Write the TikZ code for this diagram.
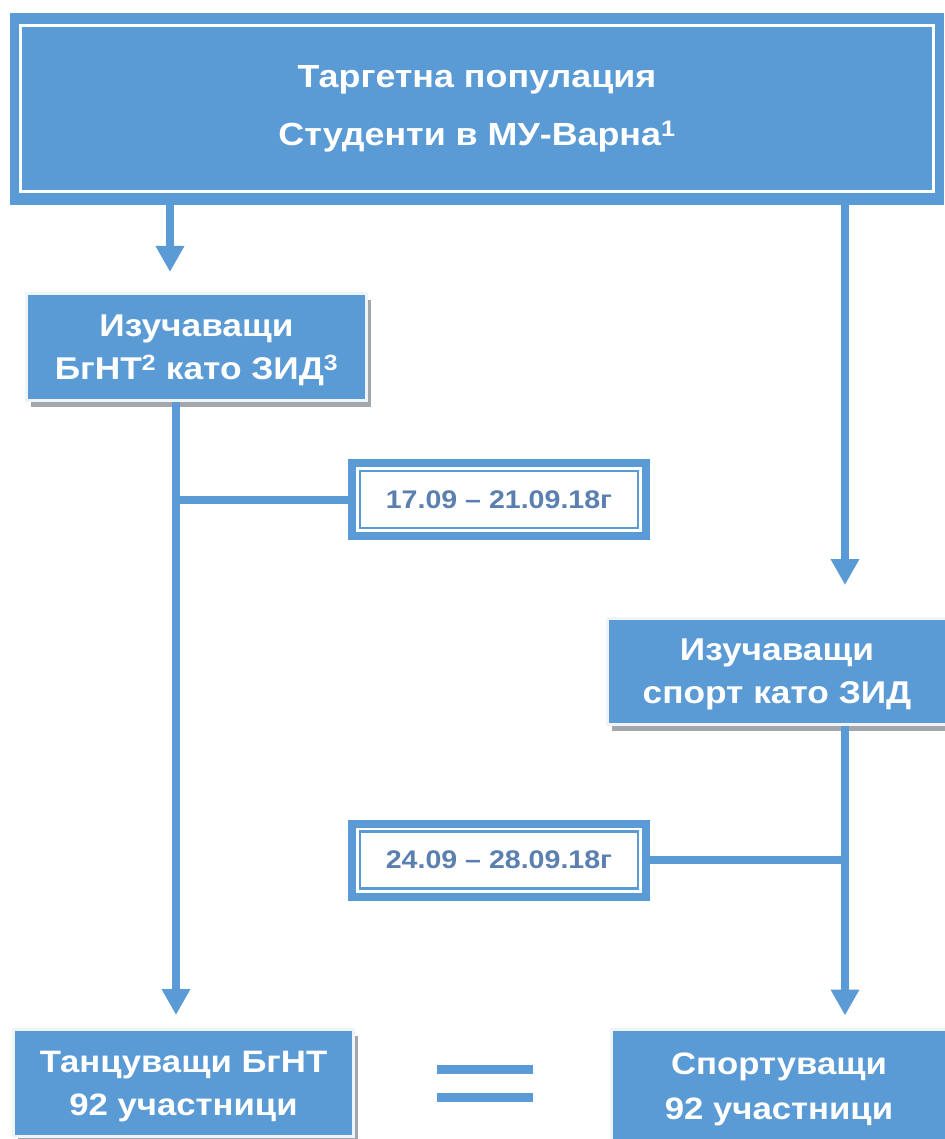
\documentclass[tikz,border=0pt]{standalone}
\usepackage{fontspec}
\setmainfont{Liberation Sans}[FakeStretch=1.12]
\usetikzlibrary{arrows.meta,shadows}
\definecolor{fcblue}{HTML}{5B9BD5}
\definecolor{fcrim}{HTML}{EEF4FA}
\definecolor{fcdate}{HTML}{5B80B0}
\definecolor{fcshadow}{HTML}{A3A7AB}

\begin{document}
\begin{tikzpicture}[x=1pt,y=-1pt,
    top box/.style={fill=fcblue,text=white,font=\fontsize{32}{58}\selectfont\bfseries,align=center,inner sep=0pt,minimum width=934pt,minimum height=192pt,
      path picture={\draw[white,line width=3pt] ([shift={(10pt,-13pt)}]path picture bounding box.north west) rectangle ([shift={(-11pt,13pt)}]path picture bounding box.south east);}},
    blue box/.style={fill=fcblue,draw=fcrim,line width=3pt,text=white,font=\fontsize{31.5}{43}\selectfont\bfseries,align=center,inner sep=0pt,text depth=0pt,
      drop shadow={shadow xshift=4pt,shadow yshift=-6pt,fill=fcshadow,opacity=1}},
    date box/.style={fill=white,draw=fcblue,line width=8pt,text=fcdate,font=\fontsize{25.5}{28}\selectfont\bfseries,inner sep=0pt,minimum width=294pt,minimum height=73pt,
      path picture={\draw[fcblue,line width=2.5pt] ([shift={(8pt,-8pt)}]path picture bounding box.north west) rectangle ([shift={(-8pt,8pt)}]path picture bounding box.south east);}},
    link/.style={fcblue,line width=8pt},
    flow/.style={link,-{Triangle[width=27pt,length=26pt]}}]
  \useasboundingbox (0,0) rectangle (944,1139);
  \fill[white] (0,0) rectangle (944,1139);
  \node[top box] (target) at (477,109) {Таргетна популация\\Студенти в МУ-Варна\textsuperscript{1}};
  \node[blue box,minimum width=340pt,minimum height=107pt] (bgnt) at (196.5,347) {Изучаващи\\БгНТ\textsuperscript{2} като ЗИД\textsuperscript{3}};
  \node[blue box,minimum width=339pt,minimum height=106pt] (sport) at (777,671.5) {Изучаващи\\спорт като ЗИД};
  \node[date box] (d1) at (499,499.5) {17.09 – 21.09.18г};
  \node[date box] (d2) at (499,860) {24.09 – 28.09.18г};
  \node[blue box,minimum width=340pt,minimum height=107pt,font=\fontsize{31}{43}\selectfont\bfseries] (dance) at (183.5,1083) {Танцуващи БгНТ\\92 участници};
  \node[blue box,minimum width=336pt,minimum height=114pt,font=\fontsize{31}{45}\selectfont\bfseries] (sportres) at (779,1086) {Спортуващи\\92 участници};
  \coordinate (xa) at (170,0);
  \coordinate (xb) at (176,0);
  \coordinate (xc) at (845,0);
  \draw[flow,shorten >=20pt] (target.south -| xa) -- (bgnt.north -| xa);
  \draw[flow,shorten >=32pt] (target.south -| xc) -- (sport.north -| xc);
  \draw[flow,shorten >=13pt] (bgnt.south -| xb) -- (dance.north -| xb);
  \draw[flow,shorten >=12pt] (sport.south -| xc) -- (sportres.north -| xc);
  \draw[link] (d1.west -| xb) -- (d1.west);
  \draw[link] (d2.east) -- (d2.east -| xc);
  \fill[fcblue] (437,1065) rectangle (533,1074);
  \fill[fcblue] (437,1093) rectangle (533,1102);
\end{tikzpicture}
\end{document}
